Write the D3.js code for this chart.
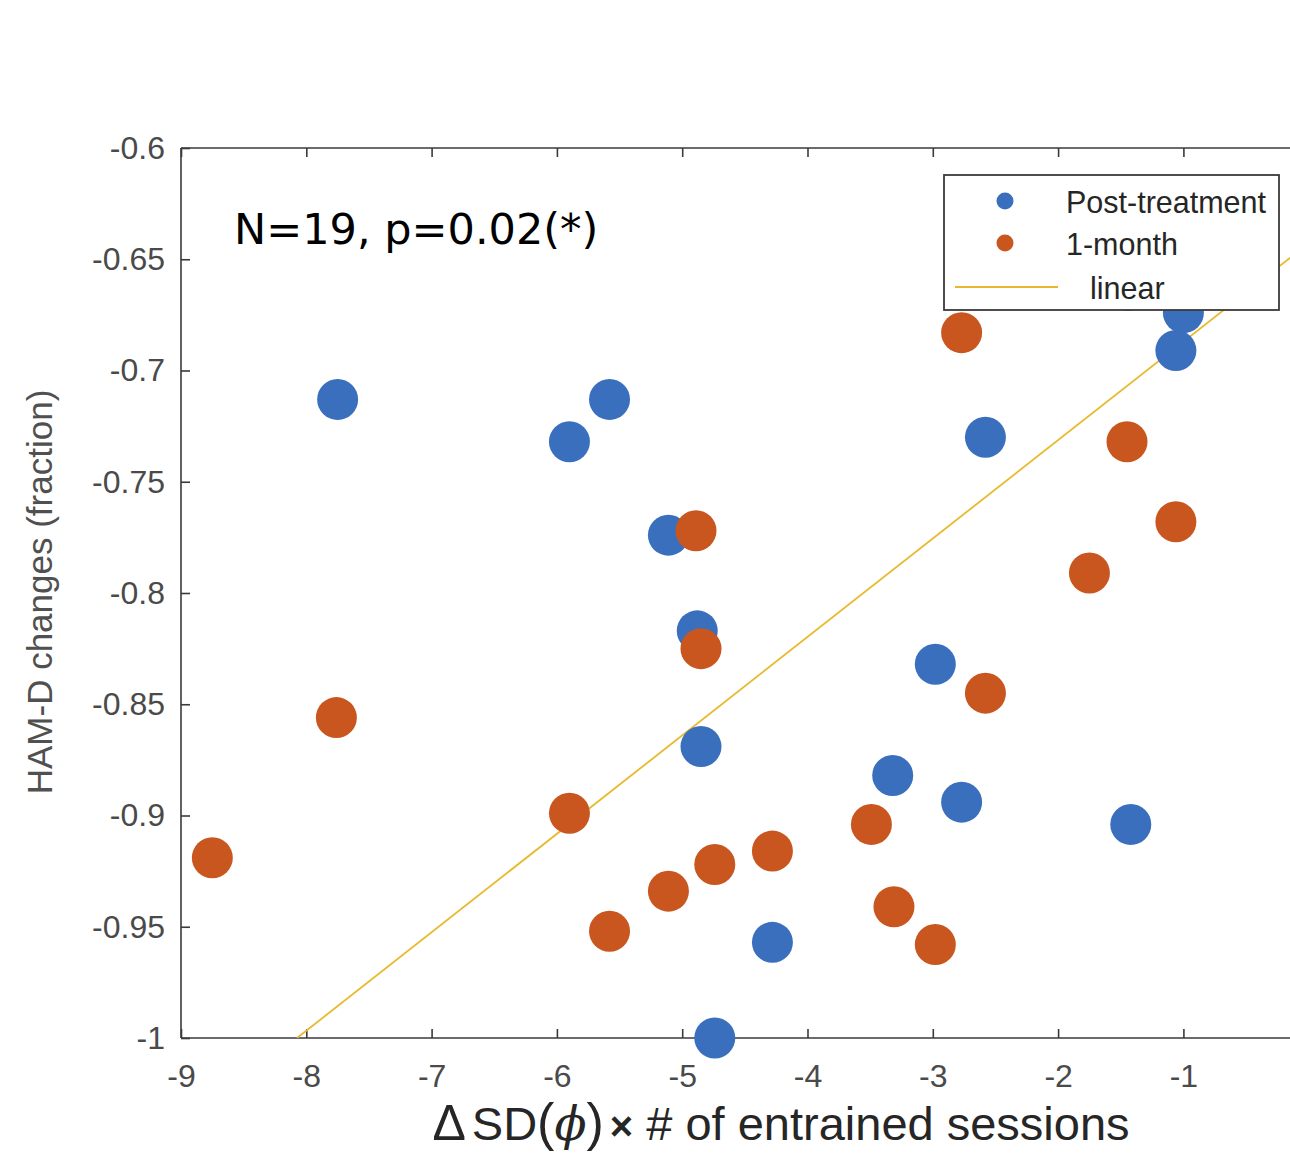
<!DOCTYPE html>
<html>
<head>
<meta charset="utf-8">
<script src="https://cdn.jsdelivr.net/npm/d3@7"></script>
<style>
  html, body { margin: 0; padding: 0; background: #fff; }
  svg { display: block; }
</style>
</head>
<body>
<svg id="chart" width="1290" height="1155"></svg>
<script>
// Post-treatment HAM-D change vs. ΔSD(ϕ) × number of entrained sessions
const postX = [-7.75, -5.58, -5.90, -5.11, -4.88, -4.85, -4.74, -4.28, -3.32, -2.98, -2.77, -2.58, -1.42, -1.06, -1.00];
const postY = [-0.713, -0.713, -0.732, -0.774, -0.817, -0.869, -1.000, -0.957, -0.882, -0.832, -0.894, -0.730, -0.904, -0.691, -0.674];

// One-month follow-up
const monthX = [-8.75, -7.76, -5.90, -5.58, -5.11, -4.89, -4.85, -4.74, -4.28, -3.49, -3.31, -2.98, -2.77, -2.58, -1.75, -1.45, -1.06, -1.44];
const monthY = [-0.919, -0.856, -0.899, -0.952, -0.934, -0.772, -0.825, -0.922, -0.916, -0.904, -0.941, -0.958, -0.683, -0.845, -0.791, -0.732, -0.768, -0.664];

// Least-squares fit line (slope, intercept)
const fitSlope = 0.04424;
const fitIntercept = -0.6428;

const xTicks = [-9, -8, -7, -6, -5, -4, -3, -2, -1];
const yTicks = [-0.6, -0.65, -0.7, -0.75, -0.8, -0.85, -0.9, -0.95, -1];

const annotation = "N=19, p=0.02(*)";
const legendLabels = ["Post-treatment", "1-month", "linear"];

const colors = { post: "#3a6fbe", month: "#c9561f", fit: "#e8b92e", axis: "#3a3a3a", tick: "#4a4a4a" };

const svg = d3.select("#chart");

const plotLeft = 181, plotTop = 148, plotBottom = 1038, plotRight = 1290;
const x = d3.scaleLinear().domain([-9, 0]).range([plotLeft, plotLeft + 9 * 125.3]);
const y = d3.scaleLinear().domain([-1, -0.6]).range([plotBottom, plotTop]);

// the fit line is clipped to the axes box
svg.append("clipPath").attr("id", "plotclip")
  .append("rect").attr("x", plotLeft).attr("y", plotTop)
  .attr("width", plotRight - plotLeft).attr("height", plotBottom - plotTop);

// Axes: bottom and top with inward ticks, left with inward ticks
const tickLen = 9;
const tickFont = "'Liberation Sans', Arial, sans-serif";
const axisG = svg.append("g");
const bottomAxis = d3.axisBottom(x).tickValues(xTicks).tickSizeInner(-tickLen).tickSizeOuter(0).tickPadding(26)
  .tickFormat(d => String(d));
const gb = axisG.append("g").attr("transform", `translate(0,${plotBottom})`).call(bottomAxis);
const topAxis = d3.axisTop(x).tickValues(xTicks).tickSizeInner(-tickLen).tickSizeOuter(0).tickFormat("");
const gt = axisG.append("g").attr("transform", `translate(0,${plotTop})`).call(topAxis);
const leftAxis = d3.axisLeft(y).tickValues(yTicks).tickSizeInner(-tickLen).tickSizeOuter(0).tickPadding(16)
  .tickFormat(d => String(d));
const gl = axisG.append("g").attr("transform", `translate(${plotLeft},0)`).call(leftAxis);

[gb, gt, gl].forEach(g => {
  g.select(".domain").attr("stroke", colors.axis).attr("stroke-width", 1.6);
  g.selectAll(".tick line").attr("stroke", colors.axis).attr("stroke-width", 1.6);
  g.selectAll(".tick text").attr("fill", colors.tick)
    .style("font-family", tickFont).style("font-size", "32px");
});
// axis lines run out to the page edge
gb.select(".domain").attr("d", `M${plotLeft},0H${plotRight}`);
gt.select(".domain").attr("d", `M${plotLeft},0H${plotRight}`);
gl.select(".domain").attr("d", `M0,${plotTop}V${plotBottom}`);
gb.selectAll(".tick text").attr("dy", "0.71em");

const plot = svg.append("g");

// Fitted line across the axis range
const fx0 = (-1 - fitIntercept) / fitSlope;
const fx1 = 0;
plot.append("line")
  .attr("clip-path", "url(#plotclip)")
  .attr("x1", x(fx0)).attr("y1", y(fitSlope * fx0 + fitIntercept))
  .attr("x2", x(fx1)).attr("y2", y(fitSlope * fx1 + fitIntercept))
  .attr("stroke", colors.fit).attr("stroke-width", 1.8);

// Markers: post-treatment first, follow-up drawn on top
const r = 20.5;
plot.selectAll("circle.post").data(d3.range(postX.length)).join("circle")
  .attr("class", "post")
  .attr("cx", i => x(postX[i])).attr("cy", i => y(postY[i])).attr("r", r)
  .attr("fill", colors.post);
plot.selectAll("circle.month").data(d3.range(monthX.length)).join("circle")
  .attr("class", "month")
  .attr("cx", i => x(monthX[i])).attr("cy", i => y(monthY[i])).attr("r", r)
  .attr("fill", colors.month);

// Y axis title
svg.append("text")
  .attr("transform", "translate(52,592) rotate(-90)")
  .attr("text-anchor", "middle")
  .attr("fill", "#505050")
  .style("font-family", tickFont).style("font-size", "35px")
  .text("HAM-D changes (fraction)");

// X axis title with symbols
const xt = svg.append("text")
  .attr("x", 781).attr("y", 1140)
  .attr("text-anchor", "middle")
  .attr("fill", "#262626")
  .style("font-family", tickFont).style("font-size", "47px");
xt.append("tspan").style("font-size", "50px").text("Δ");
xt.append("tspan").attr("dx", 6).text("SD");
xt.append("tspan").style("font-size", "52px").text("(");
xt.append("tspan").style("font-family", "'DejaVu Serif', serif").style("font-style", "italic").style("font-size", "47px").text("ϕ");
xt.append("tspan").style("font-size", "52px").text(")");
xt.append("tspan").attr("dx", 6).style("font-size", "40px").style("font-weight", "bold").text("×");
xt.append("tspan").text(" # of entrained sessions");

// Annotation
svg.append("text")
  .attr("x", 234).attr("y", 244)
  .attr("fill", "#000")
  .style("font-family", "'DejaVu Sans', Verdana, sans-serif").style("font-size", "43px")
  .text(annotation);

// Legend
const lg = svg.append("g");
lg.append("rect").attr("x", 944).attr("y", 175).attr("width", 335).attr("height", 135)
  .attr("fill", "#fff").attr("stroke", "#3a3a3a").attr("stroke-width", 1.8);
lg.append("circle").attr("cx", 1005).attr("cy", 201).attr("r", 8.5).attr("fill", colors.post);
lg.append("circle").attr("cx", 1005).attr("cy", 243).attr("r", 8.5).attr("fill", colors.month);
lg.append("line").attr("x1", 955).attr("x2", 1058).attr("y1", 287).attr("y2", 287)
  .attr("stroke", colors.fit).attr("stroke-width", 1.8);
const legendY = [213, 255, 299];
const legendX = [1066, 1066, 1090];
lg.selectAll("text.lg").data(legendLabels).join("text")
  .attr("class", "lg")
  .attr("x", (d, i) => legendX[i]).attr("y", (d, i) => legendY[i])
  .attr("fill", "#262626")
  .style("font-family", tickFont).style("font-size", "30.5px")
  .text(d => d);
</script>
</body>
</html>
